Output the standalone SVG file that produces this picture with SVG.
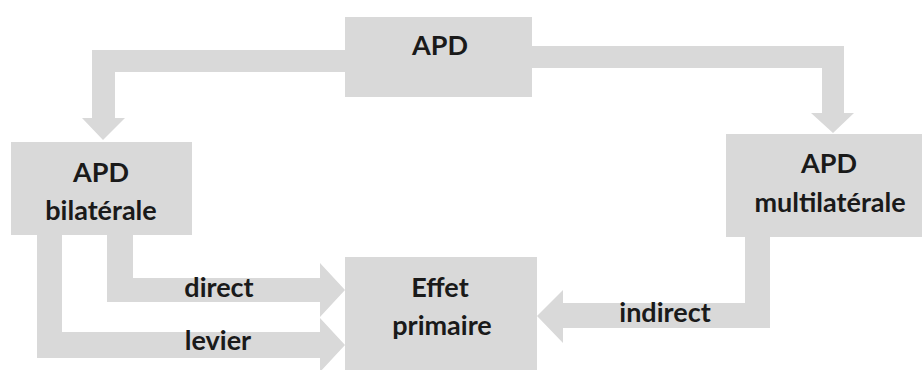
<svg xmlns="http://www.w3.org/2000/svg" width="922" height="370" viewBox="0 0 922 370">
<style>
.box{fill:#d9d9d9}
.arr{fill:#d9d9d9}
.t{font-family:Lato,"Open Sans","Liberation Sans",sans-serif;font-weight:700;font-size:27px;fill:#1a1a1a;text-anchor:middle}
</style>
<rect width="922" height="370" fill="#ffffff"/>
<g id="connectors">
<polygon class="arr" points="345,50 92,50 92,118 82,118 103,140 125,118 115,118 115,72 345,72"/>
<polygon class="arr" points="532,46 844,46 844,113 854,113 833,133 811,113 822,113 822,68 532,68"/>
<polygon class="arr" points="107,235 107,302 320,302 320,317 345,290 320,263 320,278 133,278 133,235"/>
<polygon class="arr" points="37,235 37,358 320,358 320,372 345,345 320,318 320,332 62,332 62,235"/>
<polygon class="arr" points="770,237 770,328 563,328 563,343 537,316 563,290 563,303 745,303 745,237"/>
<text class="t" x="219" y="297">direct</text>
<text class="t" x="218" y="350">levier</text>
<text class="t" x="665" y="322">indirect</text>
</g>
<g id="apd">
<rect class="box" x="345" y="17" width="187" height="80"/>
<text class="t" x="440" y="55">APD</text>
</g>
<g id="apd-bilaterale">
<rect class="box" x="11" y="142" width="181" height="93"/>
<text class="t" x="101" y="182">APD</text>
<text class="t" x="101" y="220">bilatérale</text>
</g>
<g id="apd-multilaterale">
<rect class="box" x="726" y="134" width="210" height="103"/>
<text class="t" x="829" y="173">APD</text>
<text class="t" x="830" y="212">multilatérale</text>
</g>
<g id="effet-primaire">
<rect class="box" x="345" y="257" width="192" height="120"/>
<text class="t" x="440" y="297">Effet</text>
<text class="t" x="442" y="335">primaire</text>
</g>
</svg>
